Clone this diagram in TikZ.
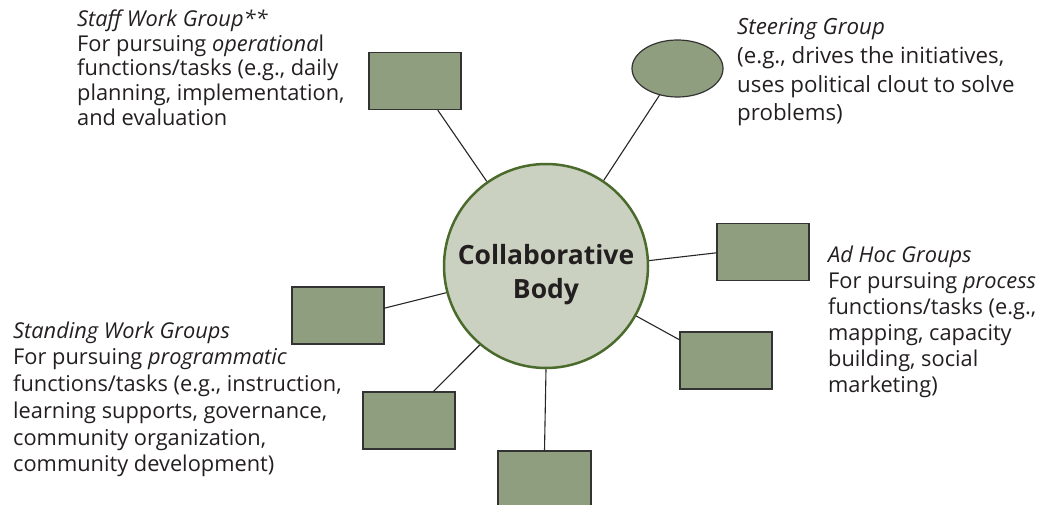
\documentclass[tikz,border=0pt]{standalone}
\usepackage{fontspec}
\setmainfont{Open Sans}
\usetikzlibrary{shapes.geometric}
\definecolor{boxfill}{RGB}{143,158,126}
\definecolor{circfill}{RGB}{203,209,192}
\definecolor{circline}{RGB}{75,107,45}
\definecolor{ink}{RGB}{35,31,32}
\begin{document}
\begin{tikzpicture}[x=1pt,y=-1pt,
  grp/.style={draw=black!80, fill=boxfill, line width=1.2pt, minimum width=92pt, minimum height=57pt, inner sep=0pt},
  conn/.style={draw=black!85, line width=1.1pt},
  txt/.style={text=ink, align=left, inner sep=0pt, anchor=north west},
  body/.style={font=\fontsize{21.8}{#1}\selectfont}]
\useasboundingbox (0,0) rectangle (1040,505);
\clip (0,0) rectangle (1040,505);

\node[draw=circline, fill=circfill, line width=2.5pt, circle, minimum size=204pt, inner sep=0pt] (cb) at (546,266) {};
\node[text=ink, align=center, inner sep=0pt, font=\fontsize{26.5}{34}\selectfont\bfseries] (cbtext) at (546,275) {Collaborative\\Body};

\node[grp] (staff) at (415,81) {};
\node[grp, ellipse, minimum width=91pt, minimum height=57pt] (steer) at (677.5,68.5) {};
\node[grp] (adhoc) at (763,252) {};
\node[grp] (lowr) at (726,360.5) {};
\node[grp] (left) at (338,315.5) {};
\node[grp] (lowl) at (409,420.5) {};
\node[grp, minimum width=93pt] (bottom) at (544.5,479.5) {};

\draw[conn] (staff.-52.8) -- (cb.125);
\draw[conn] (steer.-124) -- (cb.56);
\draw[conn] (left.9) -- (cb.195);
\draw[conn] (adhoc.181) -- (cb.3);
\draw[conn] (lowr.156) -- (cb.-29.5);
\draw[conn] (lowl.50) -- (cb.230);
\draw[conn] (bottom.north) -- (cb.south);

\node[txt, body=24.8] (stafftxt) at (77,9.5) {\textit{Staff Work Group**}\\For pursuing \textit{operationa}l\\functions/tasks (e.g., daily\\planning, implementation,\\and evaluation};
\node[txt, font=\fontsize{22.3}{28.8}\selectfont] (steertxt) at (737,18) {\textit{Steering Group}\\(e.g., drives the initiatives,\\uses political clout to solve\\problems)};
\node[txt, body=26] (adhoctxt) at (828,245.5) {\textit{Ad Hoc Groups}\\For pursuing \textit{process}\\functions/tasks (e.g.,\\mapping, capacity\\building, social\\marketing)};
\node[txt, body=26.7] (standtxt) at (13,321.5) {\textit{Standing Work Groups}\\For pursuing \textit{programmatic}\\functions/tasks (e.g., instruction,\\learning supports, governance,\\community organization,\\community development)};
\end{tikzpicture}
\end{document}
